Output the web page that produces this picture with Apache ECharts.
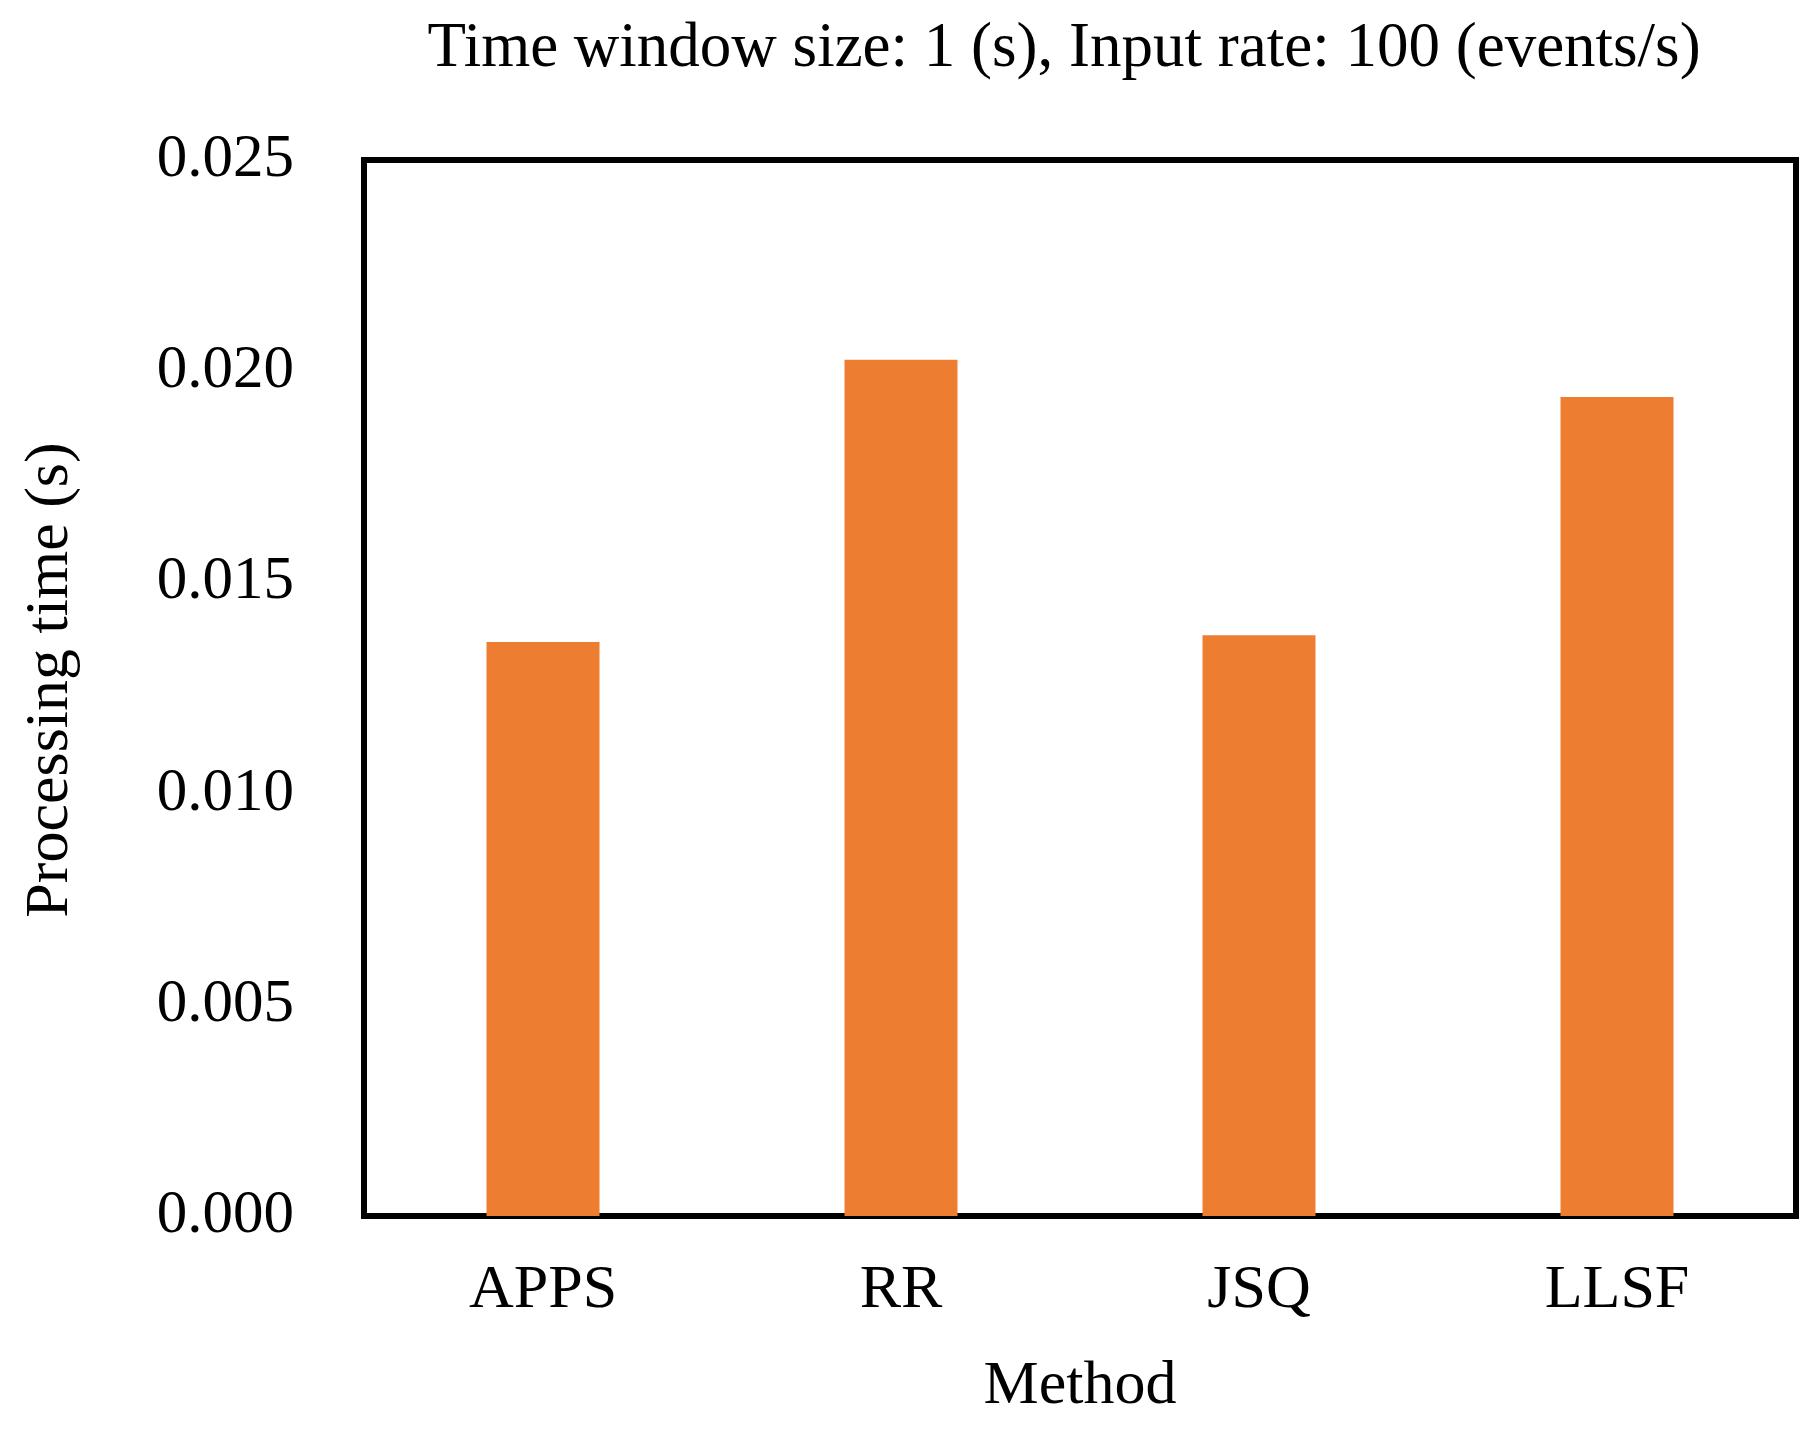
<!DOCTYPE html>
<html>
<head>
<meta charset="utf-8">
<script src="https://cdn.jsdelivr.net/npm/echarts@6/dist/echarts.min.js"></script>
<style>
html,body{margin:0;padding:0;background:#fff;}
#chart{width:1812px;height:1436px;}
</style>
</head>
<body>
<div id="chart"></div>
<script>
const categories = ['APPS', 'RR', 'JSQ', 'LLSF'];
const processingTime = [0.01359, 0.02027, 0.01375, 0.01939];
const yTicks = { min: 0, max: 0.025, interval: 0.005 };
const titleText = 'Time window size: 1 (s), Input rate: 100 (events/s)';
const xName = 'Method';
const yName = 'Processing time (s)';

const FONT = '"Liberation Serif", "Times New Roman", serif';
const chart = echarts.init(document.getElementById('chart'), null, { renderer: 'canvas' });
chart.setOption({
  backgroundColor: '#ffffff',
  animation: false,
  title: {
    text: titleText,
    left: 1064,
    textAlign: 'center',
    top: 18,
    padding: 0,
    textStyle: { fontFamily: FONT, fontSize: 63, fontWeight: 'normal', color: '#000' }
  },
  grid: {
    left: 364, right: 16, top: 160, bottom: 220,
    show: true, borderColor: '#000', borderWidth: 6, backgroundColor: 'transparent',
    containLabel: false
  },
  xAxis: {
    type: 'category',
    data: categories,
    name: xName,
    nameLocation: 'middle',
    nameGap: 140,
    nameTextStyle: { fontFamily: FONT, fontSize: 62, color: '#000' },
    axisLine: { show: false },
    axisTick: { show: false },
    axisLabel: { fontFamily: FONT, fontSize: 62, color: '#000', margin: 44 }
  },
  yAxis: {
    type: 'value',
    min: yTicks.min, max: yTicks.max, interval: yTicks.interval,
    name: yName,
    nameLocation: 'middle',
    nameGap: 282,
    nameTextStyle: { fontFamily: FONT, fontSize: 62, color: '#000', padding: [0, 0, 0, 16] },
    axisLine: { show: false },
    axisTick: { show: false },
    splitLine: { show: false },
    axisLabel: {
      fontFamily: FONT, fontSize: 61, color: '#000', margin: 70,
      formatter: v => v.toFixed(3)
    }
  },
  series: [{
    type: 'bar',
    data: processingTime,
    barWidth: 113,
    itemStyle: { color: '#ED7D31' }
  }]
});
</script>
</body>
</html>
